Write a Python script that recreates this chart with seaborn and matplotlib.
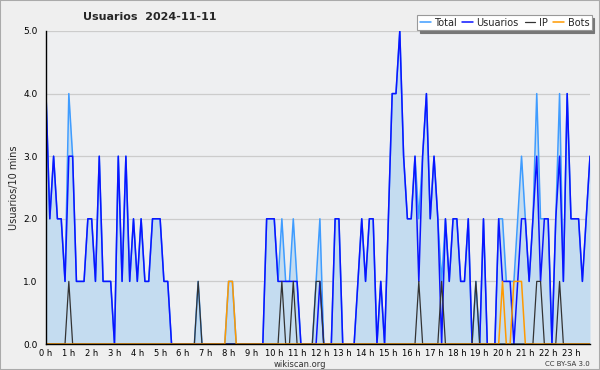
import numpy as np
import pandas as pd
import matplotlib
matplotlib.use("Agg")
import matplotlib.pyplot as plt
from matplotlib.ticker import MultipleLocator, FixedLocator, FixedFormatter
import seaborn as sns

# ---- data (10-minute slots, 144 per day) ----
usuarios = [4, 2, 3, 2, 2, 1, 3, 3, 1, 1, 1, 2, 2, 1, 3, 1, 1, 1, 0, 3,
            1, 3, 1, 2, 1, 2, 1, 1, 2, 2, 2, 1, 1, 0, 0, 0, 0, 0, 0, 0,
            0, 0, 0, 0, 0, 0, 0, 0, 0, 0, 0, 0, 0, 0, 0, 0, 0, 0, 2, 2,
            2, 1, 1, 1, 1, 1, 1, 0, 0, 0, 0, 0, 1, 0, 0, 0, 2, 2, 0, 0,
            0, 0, 1, 2, 1, 2, 2, 0, 1, 0, 2, 4, 4, 5, 3, 2, 2, 3, 1, 3,
            4, 2, 3, 2, 0, 2, 1, 2, 2, 1, 1, 2, 0, 0, 0, 2, 0, 0, 0, 2,
            1, 1, 1, 0, 1, 2, 2, 1, 2, 3, 1, 2, 2, 0, 2, 3, 1, 4, 2, 2,
            2, 1, 2, 3]
ip_slots = [6, 40, 62, 65, 71, 72, 98, 104, 113, 129, 130, 135]
ip_counts = [1, 1, 1, 1, 1, 1, 1, 1, 1, 1, 1, 1]
bots_slots = [48, 49, 120, 123, 124, 125]
bots_counts = [1, 1, 1, 1, 1, 1]

n = len(usuarios)
ip = np.zeros(n)
ip[ip_slots] = ip_counts
bots = np.zeros(n)
bots[bots_slots] = bots_counts
usuarios = np.array(usuarios, dtype=float)
total = usuarios + ip + bots
hours = np.arange(n) / 6.0

df = pd.DataFrame({"hora": hours, "Total": total, "Usuarios": usuarios,
                   "IP": ip, "Bots": bots})

hour_labels = [f"{h} h" for h in range(24)]

# ---- style ----
sns.set_theme(style="white")
plt.rcParams["font.family"] = ["DejaVu Sans"]

fig = plt.figure(figsize=(6.0, 3.7), dpi=100, facecolor="#efefef")
ax = fig.add_axes([46 / 600, 1 - 344 / 370, (590 - 46) / 600, (344 - 31) / 370])
ax.set_facecolor("#eeeff1")

colors = {"Total": "#3f9cff", "Usuarios": "#0a14ff", "IP": "#333333", "Bots": "#ff9a00"}

ax.fill_between(df["hora"], 0, df["Total"], color="#c4dcf0", zorder=1, linewidth=0)
sns.lineplot(data=df, x="hora", y="Total", ax=ax, color=colors["Total"], lw=1.1, zorder=3, label="Total")
sns.lineplot(data=df, x="hora", y="Usuarios", ax=ax, color=colors["Usuarios"], lw=1.1, zorder=4, label="Usuarios")
sns.lineplot(data=df, x="hora", y="IP", ax=ax, color=colors["IP"], lw=0.9, zorder=5, label="IP")
sns.lineplot(data=df, x="hora", y="Bots", ax=ax, color=colors["Bots"], lw=1.1, zorder=6, label="Bots")

ax.set_xlim(0, (n - 1) / 6.0)
ax.set_ylim(0, 5.0)

ax.yaxis.set_major_locator(MultipleLocator(1.0))
ax.yaxis.set_minor_locator(MultipleLocator(0.25))
ax.yaxis.set_major_formatter(matplotlib.ticker.FormatStrFormatter("%.1f"))
ax.xaxis.set_major_locator(FixedLocator(list(range(24))))
ax.xaxis.set_major_formatter(FixedFormatter(hour_labels))
ax.xaxis.set_minor_locator(MultipleLocator(1 / 6.0))

ax.tick_params(axis="y", which="major", direction="out", length=5, width=0.8,
               labelsize=6.5, colors="black", pad=1)
ax.tick_params(axis="x", which="major", direction="out", length=4.5, width=0.8,
               labelsize=6, colors="black", pad=-1)
ax.tick_params(axis="both", which="minor", direction="out", length=3, width=0.7, colors="black")

ax.grid(axis="y", which="major", color="#cccccc", lw=0.9, zorder=0)
ax.set_axisbelow(True)
for s in ["top", "right"]:
    ax.spines[s].set_visible(False)
for s in ["left", "bottom"]:
    ax.spines[s].set_color("black")
    ax.spines[s].set_linewidth(1.0)
    ax.spines[s].set_zorder(7)

ax.set_xlabel("")
ax.set_ylabel("Usuarios/10 mins", fontsize=7, labelpad=3)

leg = ax.legend(loc="upper right", bbox_to_anchor=(1.003, 1.05), ncol=4, fontsize=7,
                handlelength=1.1, handletextpad=0.35, columnspacing=0.6,
                frameon=True, fancybox=False, shadow={"color": "#777777", "alpha": 1.0},
                borderpad=0.25, borderaxespad=0)
leg.get_frame().set_edgecolor("#999999")
leg.get_frame().set_facecolor("white")
leg.get_frame().set_linewidth(0.8)

fig.text(83 / 600, 1 - 17 / 370, "Usuarios  2024-11-11", fontsize=8, fontweight="bold",
         ha="left", va="center")
fig.text(300 / 600, 1 - 364.5 / 370, "wikiscan.org", fontsize=6, ha="center", va="center", color="#333333")
fig.text(590 / 600, 1 - 364.5 / 370, "CC BY-SA 3.0", fontsize=5, ha="right", va="center", color="#333333")

border = plt.Rectangle((0, 0), 1, 1, transform=fig.transFigure, fill=False,
                       edgecolor="#aaaaaa", lw=1.5)
fig.patches.append(border)

fig.savefig("out.png", dpi=100, facecolor=fig.get_facecolor())
